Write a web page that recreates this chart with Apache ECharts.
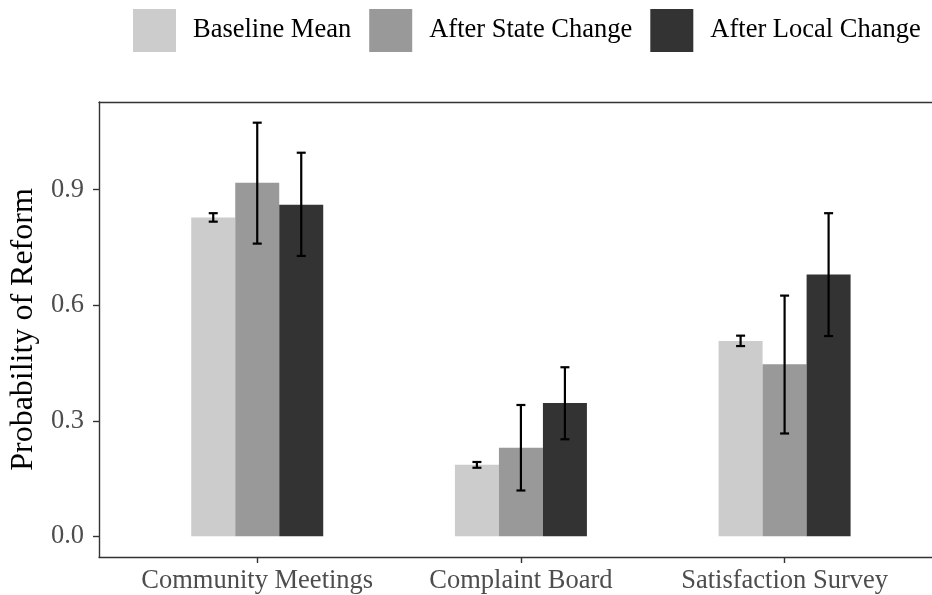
<!DOCTYPE html>
<html>
<head>
<meta charset="utf-8">
<script src="https://cdn.jsdelivr.net/npm/echarts@6/dist/echarts.min.js"></script>
<style>
html,body{margin:0;padding:0;background:#fff;}
#chart{width:932px;height:595px;}
</style>
</head>
<body>
<div id="chart"></div>
<script>
// ---- data ----
var categories = ['Community Meetings', 'Complaint Board', 'Satisfaction Survey'];
var seriesNames = ['Baseline Mean', 'After State Change', 'After Local Change'];
var baselineMean = [0.828, 0.186, 0.507];
var baselineLow  = [0.817, 0.178, 0.494];
var baselineHigh = [0.839, 0.193, 0.521];
var stateMean = [0.918, 0.230, 0.447];
var stateLow  = [0.760, 0.119, 0.267];
var stateHigh = [1.074, 0.341, 0.625];
var localMean = [0.861, 0.346, 0.680];
var localLow  = [0.728, 0.252, 0.520];
var localHigh = [0.996, 0.439, 0.839];
var yTicks = [0, 0.3, 0.6, 0.9];
var xTicks = [1, 2, 3];

// ---- build ----
var colors = ['#cccccc', '#999999', '#333333'];
var BAR_W = 44;
var FONT = '"Liberation Serif", "Times New Roman", serif';
var means = [baselineMean, stateMean, localMean];
var lows = [baselineLow, stateLow, localLow];
var highs = [baselineHigh, stateHigh, localHigh];

var series = [];
means.forEach(function (m, k) {
  series.push({
    name: seriesNames[k],
    type: 'bar',
    barWidth: BAR_W,
    barGap: '0%',
    itemStyle: { color: colors[k] },
    data: m.map(function (v, i) { return [xTicks[i], v]; }),
    z: 2
  });
});
means.forEach(function (m, k) {
  series.push({
    type: 'custom',
    z: 5,
    silent: true,
    renderItem: function (params, api) {
      var x = api.value(0), lo = api.value(1), hi = api.value(2);
      var p1 = api.coord([x, lo]);
      var p2 = api.coord([x, hi]);
      var off = (k - 1) * BAR_W;
      var cx = p1[0] + off;
      var cap = 4.5;
      var st = { stroke: '#000', lineWidth: 2.2 };
      return {
        type: 'group',
        children: [
          { type: 'line', shape: { x1: cx, y1: p1[1], x2: cx, y2: p2[1] }, style: st },
          { type: 'line', shape: { x1: cx - cap, y1: p1[1], x2: cx + cap, y2: p1[1] }, style: st },
          { type: 'line', shape: { x1: cx - cap, y1: p2[1], x2: cx + cap, y2: p2[1] }, style: st }
        ]
      };
    },
    data: m.map(function (v, i) { return [xTicks[i], lows[k][i], highs[k][i]]; })
  });
});

var chart = echarts.init(document.getElementById('chart'), null, { renderer: 'canvas' });
chart.setOption({
  animation: false,
  backgroundColor: '#fff',
  legend: {
    data: seriesNames,
    left: 133,
    top: 9,
    padding: 0,
    icon: 'rect',
    itemWidth: 43,
    itemHeight: 43,
    itemGap: 18,
    textStyle: { fontFamily: FONT, fontSize: 26.5, color: '#000', padding: [7, 0, 0, 12] }
  },
  grid: {
    left: 97, top: 102, right: 0, height: 455,
    show: false
  },
  xAxis: [{
    type: 'value',
    min: 0.4,
    max: 3.559,
    axisLine: { show: true, onZero: false, lineStyle: { color: '#333', width: 1.4 } },
    axisTick: { show: true, customValues: xTicks, length: 6, lineStyle: { color: '#333', width: 1.4 } },
    axisLabel: {
      customValues: xTicks,
      formatter: function (v) { return categories[Math.round(v) - 1] || ''; },
      fontFamily: FONT, fontSize: 26.5, color: '#4d4d4d', margin: 11
    },
    splitLine: { show: false }
  }, {
    type: 'value',
    position: 'top',
    min: 0.4,
    max: 3.559,
    axisLine: { show: true, onZero: false, lineStyle: { color: '#333', width: 1.4 } },
    axisTick: { show: false },
    axisLabel: { show: false },
    splitLine: { show: false }
  }],
  yAxis: {
    type: 'value',
    min: -0.0537,
    max: 1.1277,
    name: 'Probability of Reform',
    nameLocation: 'middle',
    nameGap: 55,
    nameTextStyle: { fontFamily: FONT, fontSize: 32, color: '#000' },
    axisLine: { show: true, onZero: false, lineStyle: { color: '#333', width: 1.4 } },
    axisTick: { show: true, customValues: yTicks, length: 6, lineStyle: { color: '#333', width: 1.4 } },
    axisLabel: {
      customValues: yTicks,
      formatter: function (v) { return v.toFixed(1); },
      fontFamily: FONT, fontSize: 26.5, color: '#4d4d4d', margin: 15
    },
    splitLine: { show: false }
  },
  series: series
});
</script>
</body>
</html>
